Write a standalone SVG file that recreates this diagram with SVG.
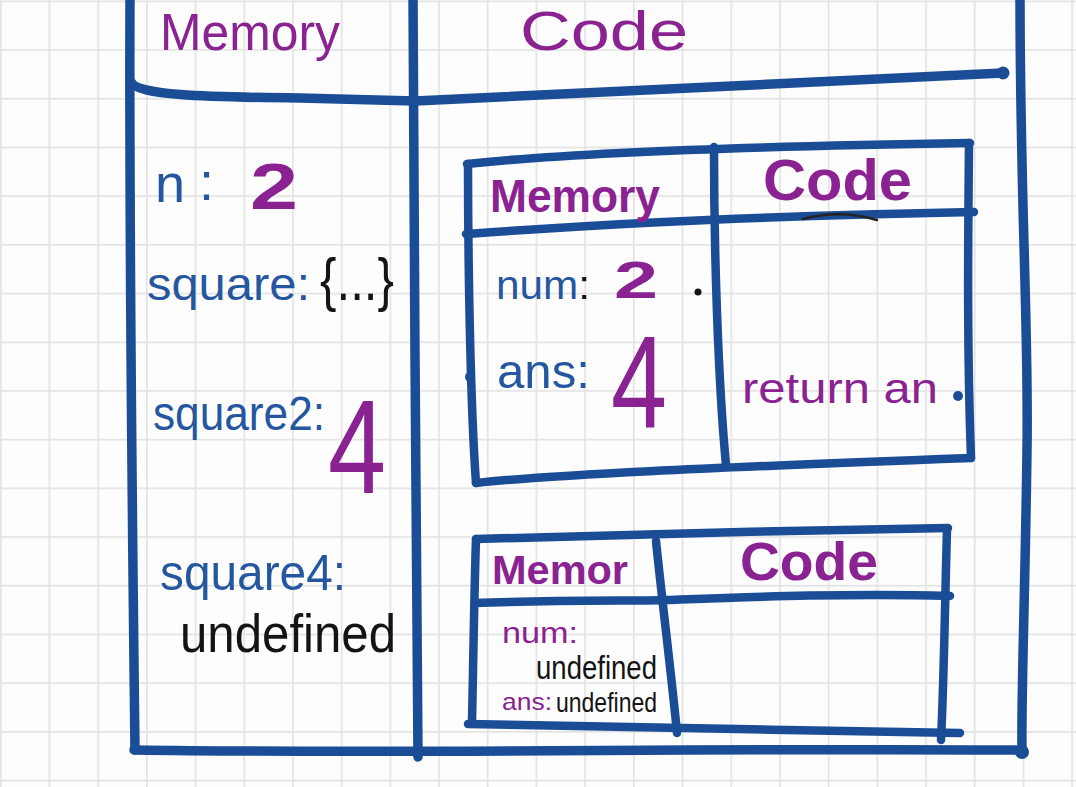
<svg xmlns="http://www.w3.org/2000/svg" width="1076" height="787" viewBox="0 0 1076 787">
<defs>
<pattern id="grid" patternUnits="userSpaceOnUse" x="48.6" y="49.2" width="48.7" height="48.7">
<rect x="0" y="0" width="48.7" height="1.6" fill="#e2e2e2"/>
<rect x="0" y="0" width="1.6" height="48.7" fill="#e2e2e2"/>
</pattern>
<style>
.ln{fill:none;stroke:#1b4d97;stroke-width:9.5;stroke-linecap:round;stroke-linejoin:round}
.li{fill:none;stroke:#1b4d97;stroke-width:8.5;stroke-linecap:round;stroke-linejoin:round}
.blob{fill:#1b4d97}
.t{font-family:"Liberation Sans",Arial,sans-serif}
.p{fill:#8a2291}
.b{fill:#24579f}
.k{fill:#141414}
</style>
</defs>
<rect width="1076" height="787" fill="#fdfdfd"/>
<rect width="1076" height="787" fill="url(#grid)"/>

<g id="global-context">
<path class="ln" d="M130,-6 C129,250 132,500 135,750"/>
<path class="ln" d="M131,82 C138,95 200,97 300,98 L415,101 L1003,73"/>
<circle class="blob" cx="1003" cy="73" r="6.5"/>
<path class="ln" d="M413,-6 C414,250 416,500 418,757"/>
<path class="ln" d="M1020,-6 C1020,200 1029,330 1027,450 C1025,600 1021,700 1022,751"/>
<path class="ln" d="M134,750 C400,754 700,748 1022,750"/>
<circle class="blob" cx="1022" cy="752" r="7"/>
<text class="t p" x="160" y="50" font-size="52" textLength="180" lengthAdjust="spacingAndGlyphs">Memory</text>
<text class="t p" x="520" y="50" font-size="56" textLength="168" lengthAdjust="spacingAndGlyphs">Code</text>
<text class="t b" font-size="54"><tspan x="155" y="202">n</tspan><tspan x="199" y="200">:</tspan></text>
<text class="t p" x="250" y="209" font-size="64" font-weight="bold" textLength="48" lengthAdjust="spacingAndGlyphs">2</text>
<text class="t b" x="147" y="300" font-size="46" textLength="163" lengthAdjust="spacingAndGlyphs">square:</text>
<text class="t k" x="320" y="300" font-size="60" textLength="74" lengthAdjust="spacingAndGlyphs">{...}</text>
<text class="t b" x="153" y="430" font-size="48" textLength="172" lengthAdjust="spacingAndGlyphs">square2:</text>
<text class="t p" x="328" y="493" font-size="134" textLength="58" lengthAdjust="spacingAndGlyphs">4</text>
<text class="t b" x="160" y="590" font-size="50" textLength="186" lengthAdjust="spacingAndGlyphs">square4:</text>
<text class="t k" x="180" y="652" font-size="54" textLength="216" lengthAdjust="spacingAndGlyphs">undefined</text>
</g>

<g id="square2-context">
<path class="li" d="M467,164 C550,155 700,147 970,143"/>
<path class="li" d="M468,164 C468,250 470,400 476,483"/>
<path class="li" d="M969,143 C968,250 967,350 971,458"/>
<path class="li" d="M476,483 C550,475 700,468 971,458"/>
<path class="li" d="M466,234 C550,228 700,217 974,212"/>
<path class="li" d="M714,147 C714,250 718,380 726,465"/>
<circle class="blob" cx="470" cy="377" r="5"/>
<circle class="blob" cx="958" cy="396" r="5"/>
<text class="t p" x="490" y="212" font-size="46" font-weight="bold" textLength="170" lengthAdjust="spacingAndGlyphs">Memory</text>
<text class="t p" x="763" y="200" font-size="58" font-weight="bold" textLength="149" lengthAdjust="spacingAndGlyphs">Code</text>
<path d="M803,219 Q840,209 877,220" fill="none" stroke="#222" stroke-width="2.5" stroke-linecap="round"/>
<text class="t b" x="496" y="299" font-size="40" textLength="94" lengthAdjust="spacingAndGlyphs">num<tspan class="k">:</tspan></text>
<text class="t p" x="614" y="298" font-size="52" font-weight="bold" textLength="44" lengthAdjust="spacingAndGlyphs">2</text>
<circle cx="698" cy="292" r="3.5" fill="#141414"/>
<text class="t b" x="497" y="388" font-size="48" textLength="93" lengthAdjust="spacingAndGlyphs">ans:</text>
<text class="t p" x="611" y="428" font-size="132" textLength="56" lengthAdjust="spacingAndGlyphs">4</text>
<text class="t p" x="742" y="403" font-size="42" textLength="196" lengthAdjust="spacingAndGlyphs">return an</text>
</g>

<g id="square4-context">
<path class="li" d="M476,539 C600,535 800,530 948,528"/>
<path class="li" d="M476,539 C474,600 473,680 472,721"/>
<path class="li" d="M947,529 C945,600 944,680 941,740"/>
<path class="li" d="M468,724 C600,727 800,730 960,733"/>
<path class="li" d="M475,603 C550,600 650,601 667,600 C750,597 850,593 950,596"/>
<path class="li" d="M656,541 C662,600 672,680 677,733"/>
<text class="t p" x="492" y="584" font-size="40" font-weight="bold" textLength="136" lengthAdjust="spacingAndGlyphs">Memor</text>
<text class="t p" x="740" y="580" font-size="54" font-weight="bold" textLength="138" lengthAdjust="spacingAndGlyphs">Code</text>
<text class="t p" x="502" y="643" font-size="29" textLength="76" lengthAdjust="spacingAndGlyphs">num:</text>
<text class="t k" x="536" y="679" font-size="33" textLength="121" lengthAdjust="spacingAndGlyphs">undefined</text>
<text class="t p" x="502" y="710" font-size="24" textLength="50" lengthAdjust="spacingAndGlyphs">ans:</text>
<text class="t k" x="556" y="712" font-size="28" textLength="101" lengthAdjust="spacingAndGlyphs">undefined</text>
</g>

<g id="connectors"/>
</svg>
